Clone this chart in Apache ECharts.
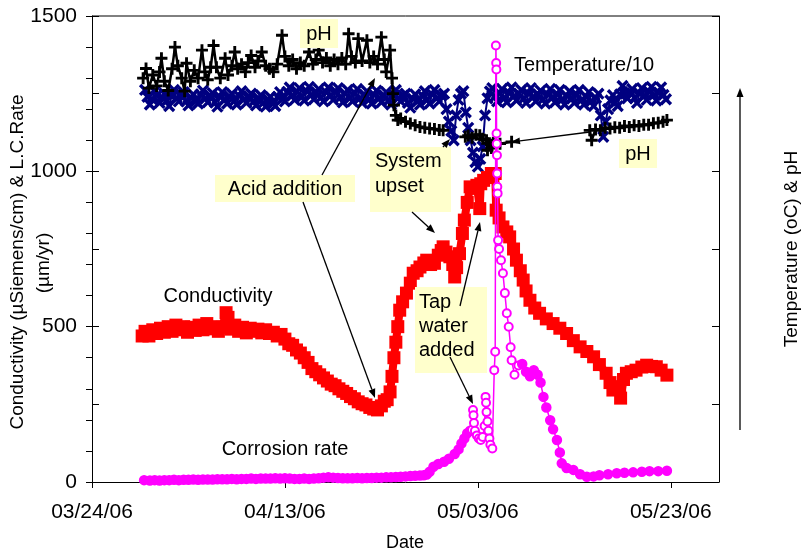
<!DOCTYPE html>
<html>
<head>
<meta charset="utf-8">
<script src="https://cdn.jsdelivr.net/npm/echarts@6/dist/echarts.min.js"></script>
<style>html,body{margin:0;padding:0;background:#fff;}#c{width:801px;height:555px;}</style>
</head>
<body>
<div id="c"></div>
<script>
// ---- axis ticks (x in days after 03/24/06) ----
const xTickDays = [0, 20, 40, 60];
const xTickLabels = ['03/24/06', '04/13/06', '05/03/06', '05/23/06'];
const yLabelValues = [0, 500, 1000, 1500];

// ---- Conductivity (µS/cm) ----
const condDays = [5.2,5.5,5.9,6.3,6.7,7.1,7.5,7.9,8.3,8.7,9.1,9.5,9.9,10.3,10.7,11.1,11.5,11.9,12.3,12.7,13.1,13.5,13.9,14.1,14.4,14.8,15.2,15.6,16.0,16.4,16.8,17.2,17.6,18.0,18.4,18.8,19.2,19.6,20.0,20.4,20.8,21.2,21.6,22.0,22.4,22.8,23.2,23.6,24.0,24.4,24.8,25.2,25.6,26.0,26.4,26.8,27.2,27.6,28.0,28.4,28.8,29.2,29.6,30.0,30.3,30.6,30.9,31.1,31.3,31.5,31.7,31.9,32.2,32.6,33.0,33.3,33.7,34.0,34.4,34.7,35.1,35.5,35.9,36.2,36.4,36.7,37.1,37.4,37.6,37.8,38.1,38.4,38.6,38.9,39.2,39.5,39.9,40.2,40.3,40.6,41.0,41.4,41.8,41.9,42.2,42.6,43.0,43.3,43.7,44.0,44.4,44.7,45.0,45.4,45.9,46.4,47.1,47.8,48.5,49.2,49.9,50.6,51.3,52.0,52.6,53.3,53.7,54.0,54.4,54.7,54.8,55.1,55.4,55.9,56.4,57.0,57.5,58.0,58.5,59.0,59.6];
const condVals = [470,485,470,490,478,495,482,500,485,505,490,500,482,498,488,505,490,510,493,500,485,498,545,530,492,505,485,498,480,495,485,492,480,490,478,482,470,475,460,445,440,425,415,400,385,365,355,345,335,325,315,310,300,292,285,275,268,258,252,248,240,235,232,245,260,265,290,340,400,450,500,553,580,608,640,672,680,692,705,714,700,704,730,745,757,740,725,700,660,690,735,800,843,900,950,945,955,880,960,971,980,993,993,875,850,821,805,789,750,714,680,650,615,585,560,543,525,510,495,478,455,435,420,403,378,350,320,296,305,307,270,330,350,355,360,370,376,372,371,360,344];

// ---- Corrosion rate (µm/yr) ----
const corrDays = [5.4,6,6.5,7,7.5,8,8.5,9,9.5,10,10.5,11,11.5,12,12.5,13,13.5,14,14.5,15,15.5,16,16.5,17,17.5,18,18.5,19,19.5,20,20.5,21,21.5,22,22.5,23,23.5,24,24.5,25,25.5,26,26.5,27,27.5,28,28.5,29,29.5,30,30.5,31,31.5,32,32.5,33,33.5,34,34.4,34.7,35.0,35.4,35.9,36.5,37.0,37.6,38.0,38.3,38.6,38.9,39.2,39.4,39.5,39.55,39.6,39.7,39.9,40.1,40.3,40.5,40.7,40.8,40.85,40.9,41.0,41.1,41.2,41.3,41.5,41.7,41.8,41.87,41.9,41.92,41.94,41.96,41.98,42.0,42.02,42.05,42.1,42.2,42.4,42.6,42.8,43.0,43.2,43.4,43.5,43.8,44.2,44.6,45.0,45.4,45.8,46.2,46.5,46.8,47.1,47.5,47.8,48.2,48.5,48.7,49.2,49.9,50.6,51.3,52.0,52.6,53.5,54.4,55.2,56.1,57.0,57.8,58.7,59.6];
const corrVals = [6,5,6,5,6,6,7,6,7,7,8,7,8,8,8,9,9,9,10,9,10,10,11,10,11,11,11,12,11,12,11,10,10,11,10,11,12,14,15,14,13,12,12,12,13,12,13,13,14,14,15,15,16,17,18,19,20,21,22,24,33,49,58,65,75,90,105,124,140,157,165,168,232,215,190,165,150,140,135,145,180,274,255,225,195,165,140,120,108,360,419,1405,1349,1328,1122,1089,1052,993,950,929,778,750,714,672,608,543,500,434,392,345,375,380,355,340,360,345,320,274,240,199,170,135,95,60,45,39,25,17,18,22,25,28,30,31,33,35,35,36];

// ---- Temperature / 10 (plotted on the 0-1500 scale), one reading every 0.25 day from day 5.5 ----
const tempStartDay = 5.5;
const tempStepDays = 0.25;
const tempVals = [1262,1240,1215,1232,1258,1245,1220,1238,1250,1228,1210,1242,1262,1236,1225,1248,1255,1226,1212,1238,1248,1225,1218,1247,1260,1234,1222,1244,1252,1222,1208,1240,1255,1230,1218,1241,1250,1226,1215,1243,1258,1232,1220,1242,1250,1224,1212,1236,1245,1220,1208,1232,1240,1218,1210,1240,1255,1234,1225,1256,1270,1244,1230,1257,1268,1240,1228,1258,1272,1246,1232,1255,1265,1238,1225,1255,1270,1244,1230,1257,1268,1238,1222,1250,1262,1236,1225,1252,1265,1235,1220,1247,1258,1232,1218,1246,1260,1234,1222,1245,1255,1228,1215,1246,1262,1236,1225,1244,1250,1220,1205,1234,1248,1225,1215,1244,1258,1230,1218,1248,1262,1236,1225,1244,1250,1200,1160,1130,1100,1180,1230,1250,1258,1190,1140,1100,1060,1030,1015,1040,1080,1180,1235,1257,1268,1240,1225,1252,1265,1236,1222,1252,1270,1242,1228,1250,1262,1234,1220,1250,1268,1240,1225,1248,1260,1232,1218,1247,1265,1238,1222,1248,1262,1232,1215,1242,1258,1234,1220,1247,1262,1230,1215,1240,1255,1226,1210,1236,1250,1180,1111,1160,1200,1228,1245,1222,1210,1248,1275,1250,1235,1256,1265,1236,1220,1250,1268,1244,1230,1256,1272,1246,1228,1254,1270,1246,1232];

// ---- pH (plotted on the 0-1500 scale), null = gap ----
const phDays = [5.3,5.6,5.9,6.3,6.7,7.0,7.2,7.5,7.9,8.3,8.6,8.9,9.3,9.6,9.8,10.2,10.6,11.0,11.4,11.7,12.0,12.3,12.6,12.9,13.3,13.8,14.1,14.5,14.8,15.1,15.5,15.9,16.2,16.5,16.9,17.2,17.6,18.0,18.4,18.8,19.2,19.7,20.0,20.4,20.8,21.2,21.6,22.0,22.5,22.9,23.2,23.5,23.9,24.3,24.7,25.1,25.5,25.9,26.3,26.6,26.9,27.3,27.6,28.0,28.5,28.8,29.2,29.6,30.0,30.3,30.5,30.9,31.1,31.2,31.3,31.5,31.7,32.0,32.5,33.0,33.5,34.0,34.5,35.0,35.5,36.0,36.4,37.5,38.7,39.0,39.4,39.8,40.2,40.5,40.9,41.0,41.2,41.4,41.6,42.3,43.5,47.5,51.6,51.8,52.2,52.7,53.2,53.7,54.2,54.7,55.2,55.7,56.2,56.7,57.2,57.7,58.2,58.7,59.2,59.6];
const phVals = [1300,1331,1268,1310,1275,1320,1364,1290,1260,1330,1400,1340,1300,1258,1348,1290,1325,1300,1390,1320,1295,1335,1405,1335,1300,1364,1310,1340,1384,1330,1345,1320,1350,1373,1335,1355,1384,1340,1330,1320,1345,1438,1370,1340,1360,1330,1350,1340,1384,1345,1360,1390,1350,1365,1340,1360,1345,1365,1345,1443,1370,1350,1427,1355,1422,1350,1370,1345,1432,1360,1320,1390,1300,1250,1213,1180,1165,1170,1160,1154,1148,1143,1140,1138,1136,1133,1132,null,1111,1115,1108,1118,1116,1105,1100,1068,1090,1075,1092,1089,1095,null,1132,1100,1135,1132,1140,1138,1142,1140,1146,1143,1148,1146,1150,1150,1155,1156,1160,1165];

function pairs(days, vals) {
  const out = [];
  for (let i = 0; i < Math.min(days.length, vals.length); i++) {
    out.push([days[i], vals[i] === null ? '-' : vals[i]]);
  }
  return out;
}
const tempData = tempVals.map(function (v, i) { return [tempStartDay + i * tempStepDays, v]; });

const FONT = '"Liberation Sans", Arial, Helvetica, sans-serif';
const PLUS = 'path://M3.8,0L6.2,0L6.2,3.8L10,3.8L10,6.2L6.2,6.2L6.2,10L3.8,10L3.8,6.2L0,6.2L0,3.8L3.8,3.8Z';

function arrow(x1, y1, x2, y2) {
  const a = Math.atan2(y2 - y1, x2 - x1);
  const L = 9, W = 3.5;
  const c = Math.cos(a), s = Math.sin(a);
  const bx = x2 - L * c, by = y2 - L * s;
  return [
    { type: 'line', z: 100, shape: { x1: x1, y1: y1, x2: bx, y2: by }, style: { stroke: '#000', lineWidth: 1.3 } },
    { type: 'polygon', z: 100, shape: { points: [[x2, y2], [bx - W * s, by + W * c], [bx + W * s, by - W * c]] }, style: { fill: '#000' } }
  ];
}
function box(x, y, w, h) {
  return { type: 'rect', z: 90, shape: { x: x, y: y, width: w, height: h }, style: { fill: '#FFFFCC' } };
}
function txt(x, y, t, opts) {
  return Object.assign({ type: 'text', z: 101, x: x, y: y,
    style: Object.assign({ text: t, fill: '#000', font: '20px ' + FONT, textAlign: 'left', textVerticalAlign: 'middle' }, (opts && opts.style) || {}) },
    (opts && opts.rotation !== undefined) ? { rotation: opts.rotation } : {});
}

const chart = echarts.init(document.getElementById('c'), null, { renderer: 'canvas' });

const graphics = [].concat(
  [{ type: 'line', z: 50, shape: { x1: 92, y1: 16, x2: 719, y2: 16 }, style: { stroke: '#000', lineWidth: 1 } }],
  [box(300, 19, 38, 29), txt(319, 34, 'pH', { style: { textAlign: 'center' } })],
  [txt(584, 65, 'Temperature/10', { style: { textAlign: 'center' } })],
  [box(215, 175, 140, 27), txt(285, 189, 'Acid addition', { style: { textAlign: 'center' } })],
  [box(370, 147, 81, 65), txt(375, 161, 'System'), txt(375, 186, 'upset')],
  [box(619, 139, 38, 29), txt(638, 154, 'pH', { style: { textAlign: 'center' } })],
  [txt(218, 296, 'Conductivity', { style: { textAlign: 'center' } })],
  [txt(285, 449, 'Corrosion rate', { style: { textAlign: 'center' } })],
  [box(415, 287, 72, 86), txt(419, 302, 'Tap'), txt(419, 326, 'water'), txt(419, 350, 'added')],
  arrow(322, 175, 375, 78),
  arrow(303, 202, 375, 398),
  arrow(412, 212, 435, 233),
  arrow(443, 147, 450, 139),
  arrow(460, 306, 480, 222),
  arrow(450, 357, 473, 404),
  arrow(590, 132, 511, 142),
  arrow(740, 430, 740, 88),
  [txt(405, 543, 'Date', { style: { textAlign: 'center', font: '18px ' + FONT } })],
  [txt(18, 262, 'Conductivity (\u00b5Siemens/cm) & L.C.Rate', { rotation: Math.PI / 2, style: { textAlign: 'center', font: '19px ' + FONT } })],
  [txt(44, 263, '(\u00b5m/yr)', { rotation: Math.PI / 2, style: { textAlign: 'center', font: '19px ' + FONT } })],
  [txt(792, 249, 'Temperature (oC) & pH', { rotation: Math.PI / 2, style: { textAlign: 'center', font: '19px ' + FONT } })]
);

// corrosion: hollow circles around the spike, solid-looking band elsewhere
const corrData = pairs(corrDays, corrVals).map(function (p) {
  const hollow = p[0] >= 39.4 && p[0] <= 44.3;
  return { value: p, symbol: hollow ? 'emptyCircle' : 'circle', symbolSize: hollow ? 8 : 9 };
});

const option = {
  animation: false,
  backgroundColor: '#fff',
  textStyle: { fontFamily: FONT },
  grid: { left: 92, right: 82, top: 16, bottom: 73, containLabel: false, outerBoundsMode: 'none' },
  xAxis: {
    type: 'value', min: 0, max: 65, interval: 20,
    axisLine: { show: true, onZero: false, lineStyle: { color: '#000', width: 1 } },
    axisTick: { show: true, inside: false, length: 6, customValues: xTickDays, lineStyle: { color: '#000' } },
    axisLabel: {
      customValues: xTickDays, color: '#000', fontSize: 21, fontFamily: FONT, margin: 20,
      formatter: function (v) { const i = xTickDays.indexOf(Math.round(v)); return i >= 0 ? xTickLabels[i] : ''; }
    },
    splitLine: { show: false }
  },
  yAxis: [
    {
      type: 'value', min: 0, max: 1500, interval: 100, position: 'left',
      axisLine: { show: true, onZero: false, lineStyle: { color: '#000', width: 1 } },
      axisTick: { show: true, inside: false, length: 6, lineStyle: { color: '#000' } },
      axisLabel: { customValues: yLabelValues, color: '#000', fontSize: 21, fontFamily: FONT, margin: 15,
        formatter: function (v) { return String(Math.round(v)); } },
      splitLine: { show: false }
    },
    {
      type: 'value', min: 0, max: 1500, interval: 250, position: 'right',
      axisLine: { show: true, onZero: false, lineStyle: { color: '#000', width: 1 } },
      axisTick: { show: true, inside: true, length: 7, lineStyle: { color: '#000' } },
      axisLabel: { show: false }, splitLine: { show: false }
    },
    {
      type: 'value', min: 0, max: 1500, interval: 250, position: 'right',
      axisLine: { show: false },
      axisTick: { show: true, inside: false, length: 7, lineStyle: { color: '#000' } },
      axisLabel: { show: false }, splitLine: { show: false }
    }
  ],
  series: [
    {
      name: 'Temperature/10', type: 'line', yAxisIndex: 0, data: tempData,
      symbol: PLUS, symbolRotate: 45, symbolSize: 14, showSymbol: true,
      itemStyle: { color: '#000080' }, lineStyle: { color: '#000080', width: 2 }, z: 2
    },
    {
      name: 'pH', type: 'line', yAxisIndex: 0, data: pairs(phDays, phVals), connectNulls: false,
      symbol: PLUS, symbolSize: 12, showSymbol: true,
      itemStyle: { color: '#000000' }, lineStyle: { color: '#000000', width: 2.5 }, z: 3
    },
    {
      name: 'Conductivity', type: 'line', yAxisIndex: 0, data: pairs(condDays, condVals),
      symbol: 'rect', symbolSize: 13, showSymbol: true,
      itemStyle: { color: '#FF0000' }, lineStyle: { color: '#FF0000', width: 8 }, z: 4
    },
    {
      name: 'Corrosion rate', type: 'line', yAxisIndex: 0, data: corrData,
      showSymbol: true,
      itemStyle: { color: '#FF00FF', borderColor: '#FF00FF', borderWidth: 1.5 }, lineStyle: { color: '#FF00FF', width: 1.5 }, z: 5
    }
  ],
  graphic: graphics
};
chart.setOption(option);
</script>
</body>
</html>
